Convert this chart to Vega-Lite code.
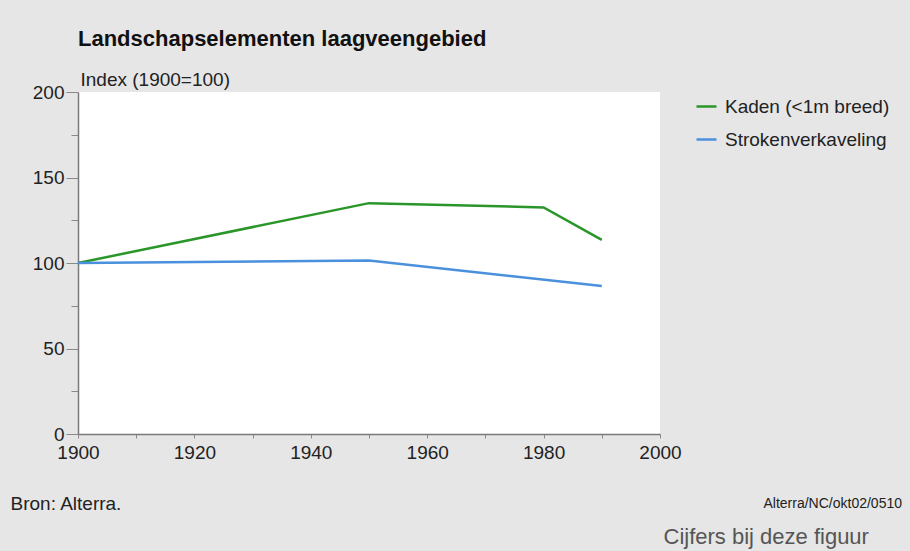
{
  "$schema": "https://vega.github.io/schema/vega-lite/v6.json",
  "width": 582,
  "height": 342,
  "autosize": {"type": "none"},
  "padding": {"left": 78, "top": 92, "right": 250, "bottom": 117},
  "background": "#e6e6e6",
  "title": {
    "text": "Landschapselementen laagveengebied",
    "anchor": "start",
    "frame": "group",
    "offset": 19,
    "fontSize": 22,
    "fontWeight": "bold",
    "font": "Liberation Sans",
    "color": "#111111"
  },
  "config": {
    "font": "Liberation Sans",
    "view": {"fill": "white", "stroke": null},
    "axis": {"labelFont": "Liberation Sans", "titleFont": "Liberation Sans", "labelColor": "#222222", "titleColor": "#222222", "grid": false}
  },
  "data": {
    "values": [
      {"jaar": 1900, "index": 100, "reeks": "Kaden (<1m breed)"},
      {"jaar": 1950, "index": 135, "reeks": "Kaden (<1m breed)"},
      {"jaar": 1980, "index": 132.5, "reeks": "Kaden (<1m breed)"},
      {"jaar": 1990, "index": 113.5, "reeks": "Kaden (<1m breed)"},
      {"jaar": 1900, "index": 100, "reeks": "Strokenverkaveling"},
      {"jaar": 1950, "index": 101.5, "reeks": "Strokenverkaveling"},
      {"jaar": 1990, "index": 86.5, "reeks": "Strokenverkaveling"}
    ]
  },
  "layer": [
    {
      "mark": {"type": "line", "strokeWidth": 2.5, "clip": false},
      "encoding": {
        "x": {
          "field": "jaar", "type": "quantitative",
          "scale": {"domain": [1900, 2000], "nice": false, "zero": false},
          "axis": {
            "orient": "bottom",
            "values": [1900, 1910, 1920, 1930, 1940, 1950, 1960, 1970, 1980, 1990, 2000],
            "labelExpr": "datum.value % 20 == 0 ? format(datum.value, 'd') : ''",
            "labelFontSize": 19,
            "labelPadding": 5,
            "tickSize": 4,
            "tickColor": "#8a8a8a",
            "domainColor": "#7a7a7a",
            "domainWidth": 1.5,
            "labelFlush": false,
            "labelOverlap": false,
            "title": "Bron: Alterra.",
            "titleFontSize": 19,
            "titleFontWeight": "normal",
            "titleAngle": 0,
            "titleAlign": "left",
            "titleBaseline": "alphabetic",
            "titleX": -68,
            "titleY": 75
          }
        },
        "y": {
          "field": "index", "type": "quantitative",
          "scale": {"domain": [0, 200], "nice": false},
          "axis": {
            "orient": "left",
            "values": [0, 25, 50, 75, 100, 125, 150, 175, 200],
            "labelExpr": "datum.value % 50 == 0 ? format(datum.value, 'd') : ''",
            "labelFontSize": 19,
            "labelPadding": 2,
            "tickSize": {"condition": {"test": "datum.value % 50 == 0", "value": 12}, "value": 7},
            "tickColor": "#8a8a8a",
            "domainColor": "#7a7a7a",
            "domainWidth": 1.5,
            "labelFlush": false,
            "labelOverlap": false,
            "title": "Index (1900=100)",
            "titleFontSize": 19,
            "titleFontWeight": "normal",
            "titleAngle": 0,
            "titleAlign": "left",
            "titleBaseline": "alphabetic",
            "titleX": 2,
            "titleY": -7
          }
        },
        "color": {
          "field": "reeks", "type": "nominal",
          "scale": {"domain": ["Kaden (<1m breed)", "Strokenverkaveling"], "range": ["#2a962a", "#4a90dc"]},
          "legend": {
            "title": null,
            "orient": "none",
            "legendX": 617,
            "legendY": 3,
            "padding": 0,
            "symbolType": "stroke",
            "symbolSize": 400,
            "symbolStrokeWidth": 2.5,
            "labelFontSize": 19,
            "labelColor": "#222222",
            "labelFont": "Liberation Sans",
            "labelOffset": 7,
            "rowPadding": 11,
            "labelLimit": 300
          }
        }
      }
    },
    {
      "mark": {"type": "point", "opacity": 0, "size": 0},
      "encoding": {
        "x": {
          "field": "jaar", "type": "quantitative",
          "scale": {"domain": [1900, 2000], "nice": false, "zero": false},
          "axis": {
            "orient": "top",
            "labels": false, "ticks": false, "domain": false,
            "title": "Cijfers bij deze figuur",
            "titleFontSize": 22,
            "titleFontWeight": "normal",
            "titleColor": "#555555",
            "titleAngle": 0,
            "titleAlign": "left",
            "titleBaseline": "alphabetic",
            "titleX": 585,
            "titleY": 451
          }
        },
        "y": {
          "field": "index", "type": "quantitative",
          "scale": {"domain": [0, 200], "nice": false},
          "axis": {
            "orient": "right",
            "labels": false, "ticks": false, "domain": false,
            "title": "Alterra/NC/okt02/0510",
            "titleFontSize": 14,
            "titleFontWeight": "normal",
            "titleColor": "#222222",
            "titleAngle": 0,
            "titleAlign": "left",
            "titleBaseline": "alphabetic",
            "titleX": 103,
            "titleY": 415
          }
        }
      }
    }
  ],
  "resolve": {"axis": {"x": "independent", "y": "independent"}}
}
